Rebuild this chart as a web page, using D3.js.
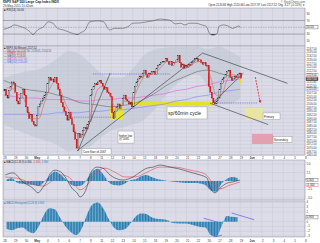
<!DOCTYPE html>
<html>
<head>
<meta charset="utf-8">
<script src="https://d3js.org/d3.v7.min.js"></script>
<style>
  body { margin: 0; background: #fff; }
  svg { display: block; font-family: "Liberation Sans", Arial, sans-serif; }
</style>
</head>
<body>
<div id="chart"></div>
<script>
// ---- data (60 minute bars, 7 per day) ----
const dayLabels = ["28","29","30","May","4","5","6","7","8","11","12","13","14","15","18","19","20","21","22","26","27","28","29","Jun","2","3","4","5","8"];

const firstOpen = 2108.9;
const closes = [
  2110, 2106, 2104, 2109, 2112, 2115, 2114,   // Apr 28
  2108, 2102, 2100, 2104, 2107, 2110, 2106,   // Apr 29
  2098, 2094, 2090, 2093, 2088, 2086, 2085,   // Apr 30
  2092, 2098, 2100, 2102, 2104, 2106, 2108,   // May 1
  2114, 2118, 2116, 2117, 2115, 2118, 2114,   // May 4
  2110, 2106, 2101, 2098, 2095, 2092, 2089,   // May 5
  2094, 2090, 2086, 2081, 2076, 2070, 2080,   // May 6
  2077, 2079, 2082, 2084, 2083, 2086, 2088,   // May 7
  2106, 2110, 2112, 2114, 2113, 2115, 2116,   // May 8
  2114, 2112, 2110, 2111, 2108, 2107, 2105,   // May 11
  2094, 2090, 2095, 2098, 2100, 2097, 2099,   // May 12
  2104, 2106, 2103, 2102, 2100, 2101, 2098,   // May 13
  2108, 2112, 2115, 2117, 2119, 2118, 2121,   // May 14
  2123, 2120, 2118, 2121, 2120, 2122, 2122,   // May 15
  2120, 2124, 2126, 2127, 2128, 2129, 2129,   // May 18
  2131, 2129, 2127, 2129, 2126, 2128, 2128,   // May 19
  2130, 2133, 2128, 2125, 2127, 2124, 2126,   // May 20
  2125, 2127, 2126, 2128, 2129, 2131, 2131,   // May 21
  2129, 2130, 2128, 2127, 2128, 2126, 2126,   // May 22
  2112, 2108, 2104, 2101, 2100, 2102, 2104,   // May 26
  2110, 2114, 2117, 2118, 2120, 2122, 2123,   // May 27
  2118, 2116, 2117, 2119, 2118, 2120, 2121,   // May 28
  2117.5                                      // May 29
];

// half-day readings
const emaVals = [2111, 2111, 2107, 2105, 2096, 2090, 2090, 2100, 2110, 2115, 2110, 2100, 2093, 2080, 2078, 2082,
  2098, 2110, 2112, 2109, 2099, 2097, 2102, 2101, 2107, 2115, 2120, 2120, 2122, 2126, 2129, 2128,
  2129, 2127, 2126, 2128, 2129, 2127, 2118, 2106, 2106, 2116, 2120, 2119, 2119];

// daily readings
const ma50Vals  = [2116, 2113, 2110, 2109, 2108, 2106, 2104, 2101, 2100, 2099, 2098, 2099, 2100, 2103, 2107, 2112, 2116, 2119, 2122, 2123, 2121, 2119, 2118];
const ma100Vals = [2106, 2105, 2104, 2104, 2103, 2103, 2103, 2102, 2102, 2103, 2103, 2104, 2104, 2105, 2106, 2107, 2109, 2110, 2112, 2113, 2115, 2116, 2117];
const ma200Vals = [2093, 2093, 2093, 2093, 2093, 2094, 2094, 2094, 2095, 2095, 2096, 2096, 2097, 2098, 2099, 2100, 2102, 2103, 2105, 2106, 2108, 2109, 2110];
const bbUpper = [2118, 2120, 2122, 2123, 2126, 2131, 2136, 2134, 2128, 2121, 2118, 2118, 2124, 2133, 2137, 2138, 2139, 2139, 2139, 2137, 2139, 2136, 2132];
const bbLower = [2086, 2083, 2080, 2077, 2075, 2072, 2068, 2069, 2071, 2077, 2082, 2084, 2086, 2089, 2096, 2105, 2113, 2118, 2120, 2112, 2100, 2100, 2104];

const rsiBars   = [0, 4, 7, 11, 14, 17, 19, 22, 26, 29, 32, 35, 39, 43, 48, 50, 53, 56, 61, 65, 69, 72, 77, 81, 84, 89, 93, 97, 102, 105, 108, 112, 115, 118, 121, 125, 129, 132, 134, 136, 139, 140, 143, 146, 149, 151, 153, 154];
const rsiValues = [44, 50, 57, 52, 47, 37, 29, 42, 52, 66, 62, 47, 42, 35, 29, 34, 42, 66, 69, 66, 42, 47, 47, 52, 62, 63, 66, 69, 74, 73, 71, 60, 62, 57, 62, 62, 57, 52, 32, 27, 32, 52, 57, 54, 47, 50, 54, 50];

const macdBars   = [1, 6, 12.5, 19, 22.3, 25.6, 28.2, 30.1, 33.4, 37.9, 41.2, 44.4, 47.7, 49.7, 52.9, 54.9, 56.2, 60.7, 64.6, 69.2, 72.4, 77.6, 84.2, 88.7, 93.3, 97.2, 101.7, 108.3, 114.8, 121.3, 127.8, 132.3, 134.3, 137.6, 140.8, 145.4, 148.6, 153.8];
const macdValues = [1.8, 2.4, -0.3, -2.1, -3.5, -1.8, 0, 2.1, 3.2, 2.4, 0.3, -2.1, -3.5, -4.7, -3.2, -0.6, 2.1, 4.1, 3.8, 1.8, 0.9, 0.3, 1.2, 2.6, 3.8, 4.1, 4.7, 4.1, 3.5, 2.6, 1.8, 0.9, -1.8, -3.5, -2.1, -0.6, -0.3, 0.3];
const signalBars   = [1, 10.6, 19, 25.6, 31.4, 37.9, 43.1, 49.7, 54.9, 59.4, 65.9, 72.4, 78.9, 85.4, 93.3, 101.7, 111.4, 121.3, 131, 136.2, 140.8, 147.3, 153.8];
const signalValues = [1.2, 0.6, -0.9, -1.5, 0, 1.8, 0.9, -2.6, -0.9, 2.1, 3.8, 2.6, 1.2, 1.2, 2.6, 4.1, 4.1, 3.2, 2.1, -0.6, -2.3, -1.2, -0.3];
const macdHist = [0.4, 0.8, -0.5, -0.8, -1.0, -1.2, -1.5, -0.3, 1.5, 2.8, 2.0, 0.5, -1.0, -1.5, -1.3, 0.6, 2.8, 3.6, 2.0, -0.3, -1.2, -1.3,
  -0.8, 0.2, 0.5, 1.4, 1.8, 1.2, 0.6, 0.3, 0.0, -0.2, -0.4, -0.5, -0.6, -0.6, -0.7, -1.2, -2.8, -3.2, -0.8, 0.6, 1.2, 0.9];
const lowerHist = [-1.5, -1.8, -1.4, -1.2, -2.0, -2.4, -1.0, 1.5, 2.8, 2.6, 0.8, -1.0, -2.2, -2.8, -1.5, 1.5, 3.6, 4.0, 2.8, 0.6, -1.2, -1.8,
  -1.6, -0.5, 1.0, 1.7, 1.6, 0.9, 0.6, 0.5, 0.3, -0.3, -0.4, -0.4, -0.5, -0.8, -1.1, -1.2, -2.8, -3.2, -1.0, 1.2, 1.0, 0.9];

const priceTicks = d3.range(2065, 2138, 2.5);
const rsiTicks = [90, 70, 30, 10];
const macdTicks = [5, 2.5, -2.5, -5];
const histTicks = [4, 3, 2, 0, -1, -2, -3];

// annotations (day units, price units)
const trendLines = [
  [6.9, 2068, 9.9, 2121],
  [6.8, 2068, 18.5, 2134.6],
  [18.5, 2134.6, 26.4, 2114],
  [19.2, 2100.5, 24.6, 2086],
  [19.4, 2100.5, 22.3, 2121]
];
const dottedLevels = [[8.3, 15.5, 2120.4], [6.2, 10.2, 2091], [19.8, 23.6, 2100.7]];
const zones = [
  { d0: 11.7, d1: 19.5, p0: 2098.8, p1: 2101.6, fill: "#e2e22c" },
  { d0: 9.88, d1: 11.09, p0: 2089.1, p1: 2097.3, fill: "#e6e636" },
  { d0: 22.44, d1: 24.12, p0: 2089.1, p1: 2097.3, fill: "#e8e4a4" },
  { d0: 23.1, d1: 25.05, p0: 2072.8, p1: 2079.6, fill: "#e2a0b0" },
  { d0: 21.98, d1: 22.1, p0: 2113.8, p1: 2117.2, fill: "#e8e020" }
];
const notes = [
  { d0: 15.19, d1: 18.91, p0: 2098, p1: 2089.8, lines: ["sp/60min cycle"], fs: 5 },
  { d0: 7.28, d1: 9.98, p0: 2069.7, p1: 2065.5, lines: ["Core floor of 2067"], fs: 2.9 },
  { d0: 10.63, d1: 12.12, p0: 2081.6, p1: 2073.4, lines: ["higher low", "@ 2085"], fs: 2.9 },
  { d0: 24.12, d1: 25.7, p0: 2093.9, p1: 2089.4, lines: ["Primary"], fs: 2.9 },
  { d0: 25.05, d1: 26.81, p0: 2077.9, p1: 2073.8, lines: ["Secondary"], fs: 2.9 }
];
const arrowPts = [23.4, 2118.3, 23.84, 2101.5];

// ---- layout ----
const left = 3, right = 305;
const svg = d3.select("#chart").append("svg").attr("width", 320).attr("height", 243);
const defs = svg.append("defs");

const x = d3.scaleLinear().domain([0, 196]).range([3.75, 304.75]);
const xd = d => x(d * 7);
const barW = x(1) - x(0);

const yRsi  = d3.scaleLinear().domain([0, 100]).range([44.3, 10.3]);
const yMain = d3.scaleLinear().domain([2065.3, 2139.4]).range([155, 46]);
const yMacd = d3.scaleLinear().domain([-5.6, 6.2]).range([200, 160]);
const yHist = d3.scaleLinear().domain([-3.2, 4.2]).range([237, 201.5]);

// striped histogram fill
const pat = defs.append("pattern").attr("id", "histFill")
  .attr("patternUnits", "userSpaceOnUse").attr("x", x(0)).attr("width", barW).attr("height", 20);
pat.append("rect").attr("width", barW).attr("height", 20).attr("fill", "#62a9d4");
pat.append("rect").attr("width", 0.6).attr("height", 20).attr("fill", "#1f6796");

function panel(id, y0, y1, y, ticks) {
  defs.append("clipPath").attr("id", id).append("rect")
    .attr("x", left).attr("y", y0).attr("width", right - left).attr("height", y1 - y0);
  svg.append("rect").attr("x", left).attr("y", y0).attr("width", right - left).attr("height", y1 - y0)
    .attr("fill", "#dcdce8");
  const grid = svg.append("g").attr("stroke", "#c6c6d8").attr("stroke-width", 0.5);
  grid.selectAll(".v").data(dayLabels).join("line")
    .attr("x1", (d, i) => xd(i)).attr("x2", (d, i) => xd(i)).attr("y1", y0).attr("y2", y1);
  grid.selectAll(".h").data(ticks).join("line")
    .attr("x1", left).attr("x2", right).attr("y1", d => y(d)).attr("y2", d => y(d));
  svg.append("rect").attr("x", left).attr("y", y0).attr("width", right - left).attr("height", y1 - y0)
    .attr("fill", "none").attr("stroke", "#8e8ea2").attr("stroke-width", 0.5);
  return svg.append("g").attr("clip-path", `url(#${id})`);
}

function axisLabels(ticks, y, fmt) {
  svg.append("g").selectAll("text").data(ticks).join("text")
    .attr("x", 306.5).attr("y", d => y(d) + 1).attr("font-size", 2.8).attr("fill", "#333")
    .text(d => fmt(d));
}

function valueBox(v, y, label, stroke, fill, color, shift) {
  const cy = y(v) + (shift || 0);
  svg.append("rect").attr("x", 306).attr("y", cy - 1.6).attr("width", 12).attr("height", 3.2)
    .attr("fill", fill).attr("stroke", stroke).attr("stroke-width", 0.4);
  svg.append("text").attr("x", 306.7).attr("y", cy + 1).attr("font-size", 2.8).attr("fill", color).text(label);
}

function dateLabels(yText) {
  svg.append("g").selectAll("text").data(dayLabels).join("text")
    .attr("x", (d, i) => xd(i) + 1.2).attr("y", yText).attr("font-size", 3)
    .attr("text-anchor", "middle").attr("fill", "#333")
    .attr("font-weight", d => (d === "May" || d === "Jun") ? "bold" : null)
    .text(d => d);
}

// ---- title ----
svg.append("text").attr("x", 3).attr("y", 3.3).attr("font-size", 3.2).attr("font-weight", "bold").attr("fill", "#222")
  .text("$SPX S&P 500 Large Cap Index  INDX");
svg.append("text").attr("x", 3).attr("y", 7).attr("font-size", 3).attr("fill", "#333").text("29-May-2015 10:42am");
svg.append("text").attr("x", 305).attr("y", 2.6).attr("font-size", 2.8).attr("text-anchor", "end").attr("fill", "#555")
  .text("© StockCharts.com");
svg.append("text").attr("x", 305).attr("y", 6.2).attr("font-size", 2.8).attr("text-anchor", "end").attr("fill", "#222")
  .text("Open 2120.66  High 2120.66  Low 2117.37  Last 2117.52  Chg -3.27 (-0.15%) ▼");

// ---- RSI panel ----
const gRsi = panel("clipRsi", 8, 46, yRsi, [70, 30]);
gRsi.append("line").attr("x1", left).attr("x2", right).attr("y1", yRsi(70)).attr("y2", yRsi(70))
  .attr("stroke", "#777").attr("stroke-width", 0.5);
gRsi.append("line").attr("x1", left).attr("x2", right).attr("y1", yRsi(30)).attr("y2", yRsi(30))
  .attr("stroke", "#777").attr("stroke-width", 0.5);
gRsi.append("line").attr("x1", left).attr("x2", right).attr("y1", yRsi(50)).attr("y2", yRsi(50))
  .attr("stroke", "#888").attr("stroke-width", 0.5).attr("stroke-dasharray", "1.5,1");
defs.append("clipPath").attr("id", "rsiLow").append("rect")
  .attr("x", left).attr("y", yRsi(30)).attr("width", right - left).attr("height", 20);
gRsi.append("path").datum(rsiValues)
  .attr("clip-path", "url(#rsiLow)")
  .attr("fill", "#333")
  .attr("d", d3.area().x((v, i) => x(rsiBars[i])).y0(yRsi(30)).y1(v => yRsi(v)).curve(d3.curveMonotoneX));
gRsi.append("path").datum(rsiValues)
  .attr("fill", "none").attr("stroke", "#555").attr("stroke-width", 0.6)
  .attr("d", d3.line().x((v, i) => x(rsiBars[i])).y(v => yRsi(v)).curve(d3.curveMonotoneX));
svg.append("text").attr("x", 4).attr("y", 11).attr("font-size", 2.8).attr("fill", "#222")
  .text("■ RSI(14) " + rsiValues[rsiValues.length - 1].toFixed(2));
axisLabels(rsiTicks, yRsi, d3.format("d"));
valueBox(rsiValues[rsiValues.length - 1], yRsi, rsiValues[rsiValues.length - 1].toFixed(2), "#555", "#fff", "#222");

// ---- main price panel ----
const gMain = panel("clipMain", 46, 155, yMain, priceTicks);

gMain.append("path").datum(bbUpper)
  .attr("fill", "#bcc5cf").attr("opacity", 0.55)
  .attr("d", d3.area().x((v, i) => x(i * 7)).y0((v, i) => yMain(bbLower[i])).y1(v => yMain(v)).curve(d3.curveMonotoneX));

// zones
gMain.selectAll(".zone").data(zones).join("rect")
  .attr("x", d => xd(d.d0)).attr("width", d => xd(d.d1) - xd(d.d0))
  .attr("y", d => yMain(d.p1)).attr("height", d => yMain(d.p0) - yMain(d.p1))
  .attr("fill", d => d.fill);

// moving averages
const dayLine = d3.line().x((v, i) => x(i * 7)).y(v => yMain(v)).curve(d3.curveMonotoneX);
gMain.append("path").datum(ma200Vals).attr("fill", "none").attr("stroke", "#8c8cf0").attr("stroke-width", 0.7).attr("d", dayLine);
gMain.append("path").datum(ma100Vals).attr("fill", "none").attr("stroke", "#e07ae0").attr("stroke-width", 0.8).attr("d", dayLine);
gMain.append("path").datum(ma50Vals).attr("fill", "none").attr("stroke", "#5f6f5f").attr("stroke-width", 0.6).attr("d", dayLine);

// dotted levels
gMain.selectAll(".lvl").data(dottedLevels).join("line")
  .attr("x1", d => xd(d[0])).attr("x2", d => xd(d[1])).attr("y1", d => yMain(d[2])).attr("y2", d => yMain(d[2]))
  .attr("stroke", "#5050e0").attr("stroke-width", 0.6).attr("stroke-dasharray", "1,0.8");

// candles
const opens = closes.map((c, i) => i === 0 ? firstOpen : closes[i - 1]);
gMain.selectAll(".candle").data(closes).join("rect")
  .attr("x", (c, i) => x(i + 0.5) - 0.6).attr("width", 1.2)
  .attr("y", (c, i) => yMain(Math.max(c, opens[i])))
  .attr("height", (c, i) => Math.max(0.7, Math.abs(yMain(c) - yMain(opens[i]))))
  .attr("fill", (c, i) => c < opens[i] ? "#e01a1a" : "#e8e8f0")
  .attr("stroke", (c, i) => c < opens[i] ? "#c00" : "#222")
  .attr("stroke-width", 0.35);

gMain.append("path").datum(emaVals).attr("fill", "none").attr("stroke", "#e06060").attr("stroke-width", 0.6)
  .attr("d", d3.line().x((v, i) => x(Math.min(i * 3.5 + 1.75, 154.5))).y(v => yMain(v)).curve(d3.curveMonotoneX));

// trend lines
gMain.selectAll(".tl").data(trendLines).join("line")
  .attr("x1", d => xd(d[0])).attr("y1", d => yMain(d[1])).attr("x2", d => xd(d[2])).attr("y2", d => yMain(d[3]))
  .attr("stroke", "#333").attr("stroke-width", 0.6);

// red arrow
defs.append("marker").attr("id", "arrowHead").attr("viewBox", "0 0 10 10").attr("refX", 5).attr("refY", 5)
  .attr("markerWidth", 3.5).attr("markerHeight", 3.5).attr("orient", "auto")
  .append("path").attr("d", "M0,0L10,5L0,10z").attr("fill", "#e02020");
gMain.append("line")
  .attr("x1", xd(arrowPts[0])).attr("y1", yMain(arrowPts[1])).attr("x2", xd(arrowPts[2])).attr("y2", yMain(arrowPts[3]))
  .attr("stroke", "#e02020").attr("stroke-width", 0.8).attr("stroke-dasharray", "2,1")
  .attr("marker-end", "url(#arrowHead)");

// note boxes
notes.forEach(n => {
  const bx = xd(n.d0), by = yMain(n.p0), bw = xd(n.d1) - xd(n.d0), bh = yMain(n.p1) - yMain(n.p0);
  svg.append("rect").attr("x", bx).attr("y", by).attr("width", bw).attr("height", bh)
    .attr("fill", "#fff").attr("stroke", "#888").attr("stroke-width", 0.4);
  n.lines.forEach((t, k) => {
    svg.append("text").attr("x", bx + 1).attr("y", by + (k + 1) * n.fs * 1.15 + (bh - n.lines.length * n.fs * 1.15) / 2 - 0.4)
      .attr("font-size", n.fs).attr("fill", "#222").text(t);
  });
});

// legend
const legend = [
  ["■ $SPX (60 Minute) 2117.52", "#222"],
  ["— BB(20,2.0) 2131.94, 2118.05, 2104.16", "#666"],
  ["— EMA(8) " + emaVals[emaVals.length - 1].toFixed(2), "#d04040"],
  ["— MA(50) " + ma50Vals[ma50Vals.length - 1].toFixed(2), "#4f5f4f"],
  ["— MA(100) " + ma100Vals[ma100Vals.length - 1].toFixed(2), "#d050d0"],
  ["— MA(200) " + ma200Vals[ma200Vals.length - 1].toFixed(2), "#6a6ae0"]
];
svg.append("g").selectAll("text").data(legend).join("text")
  .attr("x", 4).attr("y", (d, i) => 49 + i * 2.7).attr("font-size", 2.6).attr("fill", d => d[1]).text(d => d[0]);

axisLabels(priceTicks, yMain, d3.format(".2f"));
valueBox(emaVals[emaVals.length - 1], yMain, emaVals[emaVals.length - 1].toFixed(2), "#e06060", "#fff", "#222", -1.2);
valueBox(closes[closes.length - 1], yMain, closes[closes.length - 1].toFixed(2), "#333", "#555", "#fff", 0.9);
valueBox(ma200Vals[ma200Vals.length - 1], yMain, ma200Vals[ma200Vals.length - 1].toFixed(2), "#8c8cf0", "#fff", "#222");

dateLabels(158.6);

// ---- MACD panel ----
const gMacd = panel("clipMacd", 160, 200, yMacd, [0].concat(macdTicks));
gMacd.append("path").datum(macdHist).attr("fill", "url(#histFill)")
  .attr("d", d3.area().x((v, i) => x(i * 3.5 + 1.75)).y0(yMacd(0)).y1(v => yMacd(v)).curve(d3.curveMonotoneX));
gMacd.append("path").datum(signalValues).attr("fill", "none").attr("stroke", "#e04848").attr("stroke-width", 0.6)
  .attr("d", d3.line().x((v, i) => x(signalBars[i])).y(v => yMacd(v)).curve(d3.curveMonotoneX));
gMacd.append("path").datum(macdValues).attr("fill", "none").attr("stroke", "#333").attr("stroke-width", 0.6)
  .attr("d", d3.line().x((v, i) => x(macdBars[i])).y(v => yMacd(v)).curve(d3.curveMonotoneX));
const macdLabel = svg.append("text").attr("x", 4).attr("y", 163).attr("font-size", 2.6);
macdLabel.append("tspan").attr("fill", "#222").text("■ MACD(12,26,9) " + macdValues[macdValues.length - 1].toFixed(3) + ", ");
macdLabel.append("tspan").attr("fill", "#d04040").text(signalValues[signalValues.length - 1].toFixed(3) + ", ");
macdLabel.append("tspan").attr("fill", "#2f7fb5").text(macdHist[macdHist.length - 1].toFixed(3));
axisLabels(macdTicks, yMacd, d3.format(".1f"));
valueBox(macdValues[macdValues.length - 1], yMacd, macdValues[macdValues.length - 1].toFixed(3), "#555", "#fff", "#222");
valueBox(signalValues[signalValues.length - 1] - 0.9, yMacd, signalValues[signalValues.length - 1].toFixed(3), "#e04848", "#fff", "#222");

// ---- lower histogram panel ----
const gHist = panel("clipHist", 201, 237, yHist, histTicks);
gHist.append("path").datum(lowerHist).attr("fill", "url(#histFill)")
  .attr("d", d3.area().x((v, i) => x(i * 3.5 + 1.75)).y0(yHist(0)).y1(v => yHist(v)).curve(d3.curveMonotoneX));
const histLines = [[18.6, 0.7, 19.9, -0.1], [21.2, 1.8, 23.3, 0.4], [19.5, -3.3, 20.3, -2.8]];
gHist.selectAll(".dl").data(histLines).join("line")
  .attr("x1", d => xd(d[0])).attr("y1", d => yHist(d[1])).attr("x2", d => xd(d[2])).attr("y2", d => yHist(d[3]))
  .attr("stroke", "#5a5af0").attr("stroke-width", 0.7);
svg.append("text").attr("x", 4).attr("y", 203.8).attr("font-size", 2.6).attr("fill", "#2f7fb5")
  .text("■ MACD-Histogram(12,26,9) " + lowerHist[lowerHist.length - 1].toFixed(3));
axisLabels(histTicks, yHist, d3.format("d"));
valueBox(lowerHist[lowerHist.length - 1], yHist, lowerHist[lowerHist.length - 1].toFixed(3), "#555", "#fff", "#222");

dateLabels(241.5);
</script>
</body>
</html>
